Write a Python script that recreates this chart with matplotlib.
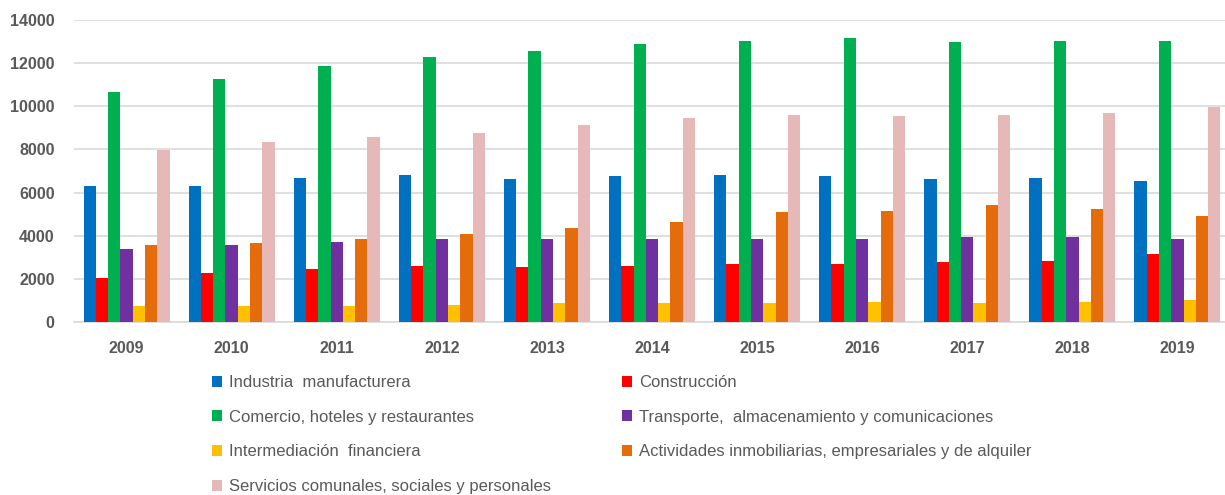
import numpy as np
import matplotlib
matplotlib.use("Agg")
import matplotlib.pyplot as plt

plt.rcParams['font.family'] = ['Liberation Sans', 'DejaVu Sans']

# Datos
anios = ['2009', '2010', '2011', '2012', '2013', '2014', '2015', '2016', '2017', '2018', '2019']

industria = [6300, 6300, 6670, 6820, 6610, 6750, 6820, 6750, 6610, 6670, 6530]
construccion = [2060, 2270, 2480, 2600, 2550, 2600, 2690, 2690, 2760, 2830, 3170]
comercio = [10660, 11280, 11850, 12270, 12550, 12900, 13040, 13180, 12960, 13040, 13040]
transporte = [3390, 3590, 3730, 3870, 3870, 3870, 3870, 3870, 3960, 3960, 3870]
intermediacion = [730, 730, 730, 810, 870, 870, 870, 950, 870, 950, 1010]
actividades = [3590, 3670, 3870, 4080, 4360, 4640, 5080, 5140, 5420, 5220, 4920]
servicios = [7980, 8350, 8570, 8770, 9110, 9470, 9610, 9530, 9610, 9670, 9980]

series = [industria, construccion, comercio, transporte, intermediacion, actividades, servicios]
nombres = ['Industria  manufacturera',
           'Construcción',
           'Comercio, hoteles y restaurantes',
           'Transporte,  almacenamiento y comunicaciones',
           'Intermediación  financiera',
           'Actividades inmobiliarias, empresariales y de alquiler',
           'Servicios comunales, sociales y personales']
colores = ['#0070C0', '#FF0000', '#00B050', '#7030A0', '#FFC000', '#E46C0A', '#E6B9B8']

W, H = 1225, 495
fig = plt.figure(figsize=(W / 100, H / 100), dpi=100)
# el area del grafico se sale un poco por la derecha, como en la imagen
ax = fig.add_axes([74 / W, 1 - 322 / H, (1230 - 74) / W, (322 - 20) / H])

x = np.arange(len(anios))
ancho = 0.117
barras = []
for i, (vals, color) in enumerate(zip(series, colores)):
    b = ax.bar(x + (i - 3) * ancho, vals, width=ancho, color=color, zorder=3)
    barras.append(b)

ax.set_xlim(-0.5, len(anios) - 0.5)
ax.set_ylim(0, 14000)
ax.set_yticks(range(0, 14001, 2000))
ax.yaxis.grid(True, color='#D9D9D9', linewidth=1.2, zorder=0)
ax.set_axisbelow(True)
for s in ['top', 'right', 'left']:
    ax.spines[s].set_visible(False)
ax.spines['bottom'].set_color('#D9D9D9')
ax.spines['bottom'].set_linewidth(1.2)
ax.tick_params(axis='both', length=0, colors='#595959', labelsize=11.5)
ax.tick_params(axis='x', pad=14)
ax.tick_params(axis='y', pad=14)
ax.set_xticks(x)
ax.set_xticklabels(anios, fontweight='bold')
for t in ax.get_yticklabels():
    t.set_fontweight('bold')

# Leyenda en dos columnas
col1 = [0, 2, 4, 6]
col2 = [1, 3, 5]
opts = dict(frameon=False, fontsize=12, handlelength=0.62, handleheight=0.62,
            handletextpad=0.4, labelspacing=1.18, labelcolor='#595959',
            borderaxespad=0, borderpad=0)
fig.legend([barras[i] for i in col1], [nombres[i] for i in col1],
           loc='upper left', bbox_to_anchor=(212 / W, 1 - 375 / H), **opts)
fig.legend([barras[i] for i in col2], [nombres[i] for i in col2],
           loc='upper left', bbox_to_anchor=(622 / W, 1 - 375 / H), **opts)

fig.savefig('out.png', dpi=100)
